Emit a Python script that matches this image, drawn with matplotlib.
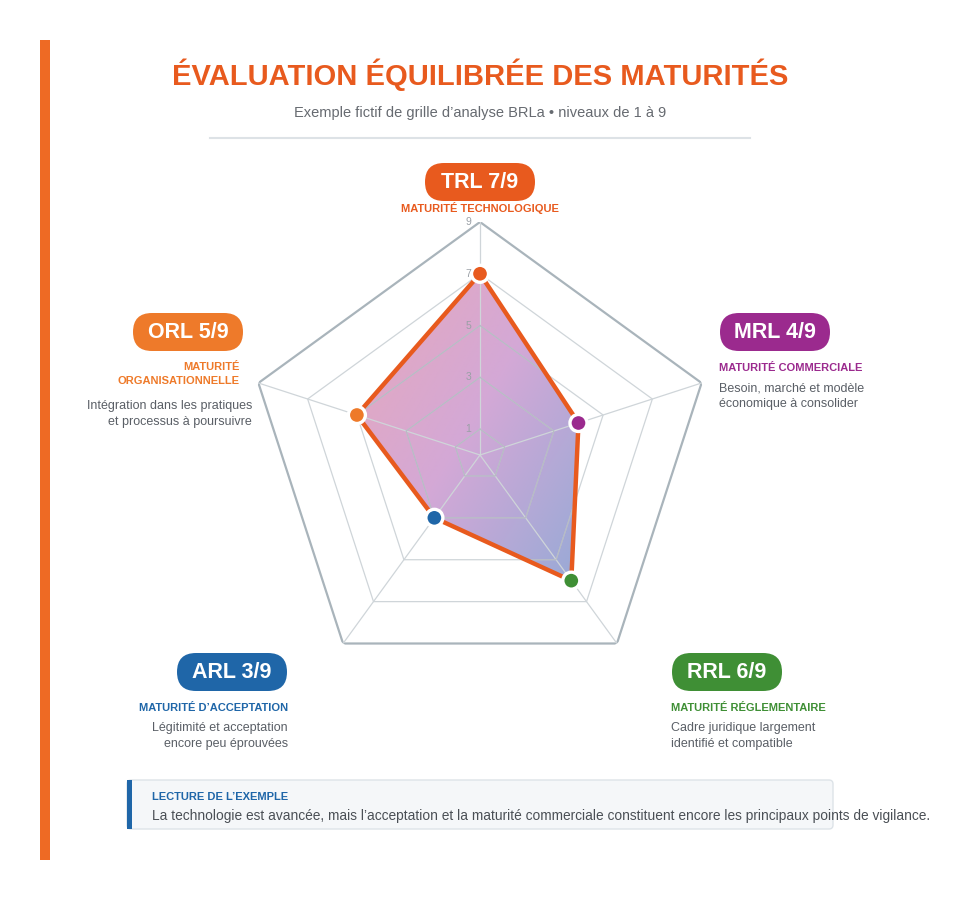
import numpy as np
import matplotlib
matplotlib.use("Agg")
from matplotlib import pyplot as plt
from matplotlib.patches import FancyBboxPatch, Rectangle, Polygon

plt.rcParams['font.family'] = ['Liberation Sans', 'DejaVu Sans']

# data
codes = ['TRL', 'MRL', 'RRL', 'ARL', 'ORL']
values = [7, 4, 6, 3, 5]
max_level = 9
rings = [1, 3, 5, 7, 9]
titles = ['MATURITÉ TECHNOLOGIQUE', 'MATURITÉ COMMERCIALE', 'MATURITÉ RÉGLEMENTAIRE',
          "MATURITÉ D\u2019ACCEPTATION", 'MATURITÉ\nORGANISATIONNELLE']
descs = ['', 'Besoin, marché et modèle\néconomique à consolider',
         'Cadre juridique largement\nidentifié et compatible',
         'Légitimité et acceptation\nencore peu éprouvées',
         'Intégration dans les pratiques\net processus à poursuivre']
colors = ['#e85a1e', '#9b2a8e', '#3f8f35', '#1f66a8', '#ee7a2a']

W, H = 960, 900
fig = plt.figure(figsize=(9.6, 9), dpi=100)
bg = fig.add_axes([0, 0, 1, 1])
bg.set_xlim(0, W)
bg.set_ylim(H, 0)
bg.axis('off')

# left bar, title
bg.add_patch(Rectangle((40, 40), 10, 820, color='#ee6a24', lw=0))
bg.text(480, 75, 'ÉVALUATION ÉQUILIBRÉE DES MATURITÉS', ha='center', va='center',
        fontsize=21, fontweight='bold', color='#e85a1e')
bg.text(480, 113, "Exemple fictif de grille d\u2019analyse BRLa \u2022 niveaux de 1 à 9",
        ha='center', va='center', fontsize=10.5, color='#666a70')
bg.plot([210, 750], [138, 138], color='#dde2e6', lw=1.5)

# radar
cx, cy, R = 480, 455, 233
ax = fig.add_axes([(cx - R) / W, (H - cy - R) / H, 2 * R / W, 2 * R / H], projection='polar')
ax.set_theta_offset(np.pi / 2)
ax.set_theta_direction(-1)
ax.set_ylim(0, max_level)
ax.axis('off')
ax.patch.set_alpha(0)
theta = np.linspace(0, 2 * np.pi, len(codes), endpoint=False)
tc = np.append(theta, theta[0])
for r in rings:
    outer = r == max_level
    ax.plot(tc, [r] * len(tc), color='#a9b4bb' if outer else '#cfd5d9',
            lw=1.6 if outer else 0.9, zorder=1)
for t in theta:
    ax.plot([t, t], [0, max_level], color='#cfd5d9', lw=0.9, zorder=1)
for r in rings:
    ax.text(0, r, str(r) + '   ', ha='right', va='center', fontsize=7.5, color='#9aa0a6', zorder=5)

vc = values + values[:1]
poly = Polygon(np.column_stack([tc, vc]), closed=True, transform=ax.transData,
               fill=False, edgecolor='#e85a1e', lw=3.2, zorder=3)
ax.add_patch(poly)
# gradient fill clipped by the polygon (sits under the grid lines)
gx, gy = np.meshgrid(np.linspace(0, 1, 200), np.linspace(0, 1, 200))
tgrad = np.clip((gx * 1.1 + gy * 0.9) / 2, 0, 1)[..., None]
c0 = np.array([232, 168, 186]) / 255
c1 = np.array([212, 168, 214]) / 255
c2 = np.array([150, 170, 214]) / 255
img = np.where(tgrad < 0.5, c0 + (c1 - c0) * tgrad * 2, c1 + (c2 - c1) * (tgrad - 0.5) * 2)
im = bg.imshow(img, extent=[cx - R * 0.55, cx + R * 0.45, cy + R * 0.55, cy - R * 0.8],
               zorder=0.5, interpolation='bilinear')
bg.set_xlim(0, W)
bg.set_ylim(H, 0)
clip = Polygon(np.column_stack([tc, vc]), closed=True, transform=ax.transData)
im.set_clip_path(clip)
# grid inside the fill appears darker
for r in rings:
    ax.plot(tc, [r] * len(tc), color='#8c8fa0', lw=0.9, alpha=0.35, zorder=2,
            clip_path=clip)
ax.scatter(theta, values, s=150, c=colors, edgecolors='white', linewidths=2.4, zorder=4,
           clip_on=False)

# labels
badges = [(480, 182), (775, 332), (727, 672), (232, 672), (188, 332)]
for i, (bx, by) in enumerate(badges):
    bw, bh = 110, 38
    bg.add_patch(FancyBboxPatch((bx - bw / 2, by - bh / 2), bw, bh,
                                boxstyle='round,pad=0,rounding_size=19',
                                color=colors[i], lw=0))
    bg.text(bx, by + 1, '%s %d/%d' % (codes[i], values[i], max_level), ha='center',
            va='center', fontsize=15.5, fontweight='bold', color='white')
for i in range(len(codes)):
    bx, by = badges[i]
    if i == 0:
        bg.text(480, 208, titles[0], ha='center', va='center', fontsize=8,
                fontweight='bold', color=colors[0])
    elif i in (1, 2):
        x0 = bx - 56
        bg.text(x0, by + 36, titles[i], ha='left', va='center', fontsize=8,
                fontweight='bold', color=colors[i])
        bg.text(x0, by + 64, descs[i], ha='left', va='center', fontsize=9,
                color='#5a5f66', linespacing=1.4)
    else:
        x0 = bx + 56 if i == 3 else 240
        ty = by + 36 if i == 3 else by + 42
        bg.text(x0, ty, titles[i], ha='right', va='center', fontsize=8,
                fontweight='bold', color=colors[i], linespacing=1.6)
        dy = by + 64 if i == 3 else by + 82
        bg.text(x0 + (0 if i == 3 else 12), dy, descs[i], ha='right', va='center',
                fontsize=9, color='#5a5f66', linespacing=1.4)

# reading box
bg.add_patch(FancyBboxPatch((127, 780), 706, 49, boxstyle='round,pad=0,rounding_size=4',
                            facecolor='#f5f7f9', edgecolor='#dde3e8', lw=1))
bg.add_patch(Rectangle((127, 780), 5, 49, color='#1f66a8', lw=0))
bg.text(152, 797, "LECTURE DE L\u2019EXEMPLE", ha='left', va='center', fontsize=8,
        fontweight='bold', color='#1f66a8')
bg.text(152, 816, "La technologie est avancée, mais l\u2019acceptation et la maturité commerciale "
        "constituent encore les principaux points de vigilance.", ha='left', va='center',
        fontsize=9.9, color='#4a4f55')

fig.savefig('out.png', dpi=100)
